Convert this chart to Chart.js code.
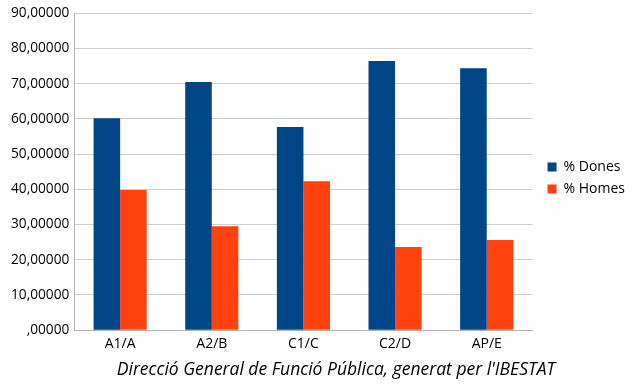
<!DOCTYPE html>
<html>
<head>
<meta charset="utf-8">
<script src="https://cdn.jsdelivr.net/npm/chart.js@4"></script>
<style>
  body { margin: 0; background: #fff; }
  #wrap { width: 634px; height: 384px; }
</style>
</head>
<body>
<div id="wrap"><canvas id="chart"></canvas></div>
<script>
// data
const categories = ['A1/A', 'A2/B', 'C1/C', 'C2/D', 'AP/E'];
const dones = [60.2, 70.5, 57.7, 76.4, 74.4];
const homes = [39.8, 29.5, 42.3, 23.6, 25.6];
const seriesNames = ['% Dones', '% Homes'];
const caption = 'Direcció General de Funció Pública, generat per l\'IBESTAT';

// format like 10,00000 and ,00000
function fmt(v) {
    let s = v.toFixed(5).replace('.', ',');
    if (s.startsWith('0,')) s = s.slice(1);
    return s;
}

// nudge legend up/right and caption right, like the original
const boxShift = {
    id: 'boxShift',
    afterLayout(chart) {
        const lg = chart.legend;
        lg.top -= 16;
        lg.bottom -= 16;
        lg.left += 7;
        lg.right += 7;
        const tb = chart.titleBlock;
        tb.left += 19;
        tb.right += 19;
    }
};

const ctx = document.getElementById('chart').getContext('2d');
const chart = new Chart(ctx, {
    type: 'bar',
    data: {
        labels: categories,
        datasets: [{
            label: seriesNames[0],
            data: dones,
            backgroundColor: '#004586'
        }, {
            label: seriesNames[1],
            data: homes,
            backgroundColor: '#ff420e'
        }]
    },
    options: {
        responsive: true,
        maintainAspectRatio: false,
        animation: false,
        layout: { padding: { top: 7, left: 6, right: 6, bottom: 3 } },
        datasets: {
            bar: { categoryPercentage: 0.58, barPercentage: 1.0 }
        },
        scales: {
            x: {
                grid: { display: false, drawTicks: false },
                border: { color: '#b3b3b3' },
                ticks: {
                    color: '#000',
                    padding: 5,
                    font: { family: 'Open Sans', size: 14 }
                }
            },
            y: {
                min: 0,
                max: 90,
                grid: { color: '#cfcfcf', drawTicks: false },
                border: { color: '#b3b3b3' },
                ticks: {
                    stepSize: 10,
                    color: '#000',
                    padding: 5,
                    font: { family: 'Open Sans', size: 13.7 },
                    callback: v => fmt(v)
                }
            }
        },
        plugins: {
            legend: {
                position: 'right',
                labels: {
                    boxWidth: 9,
                    boxHeight: 9,
                    color: '#000',
                    padding: 8,
                    font: { family: 'Open Sans', size: 14 }
                }
            },
            title: {
                display: true,
                position: 'bottom',
                text: caption,
                color: '#000',
                padding: { top: 3, bottom: 0 },
                font: { family: 'Open Sans', size: 17.5, style: 'italic', weight: 'normal' }
            },
            tooltip: { enabled: false }
        }
    },
    plugins: [boxShift]
});
</script>
</body>
</html>
